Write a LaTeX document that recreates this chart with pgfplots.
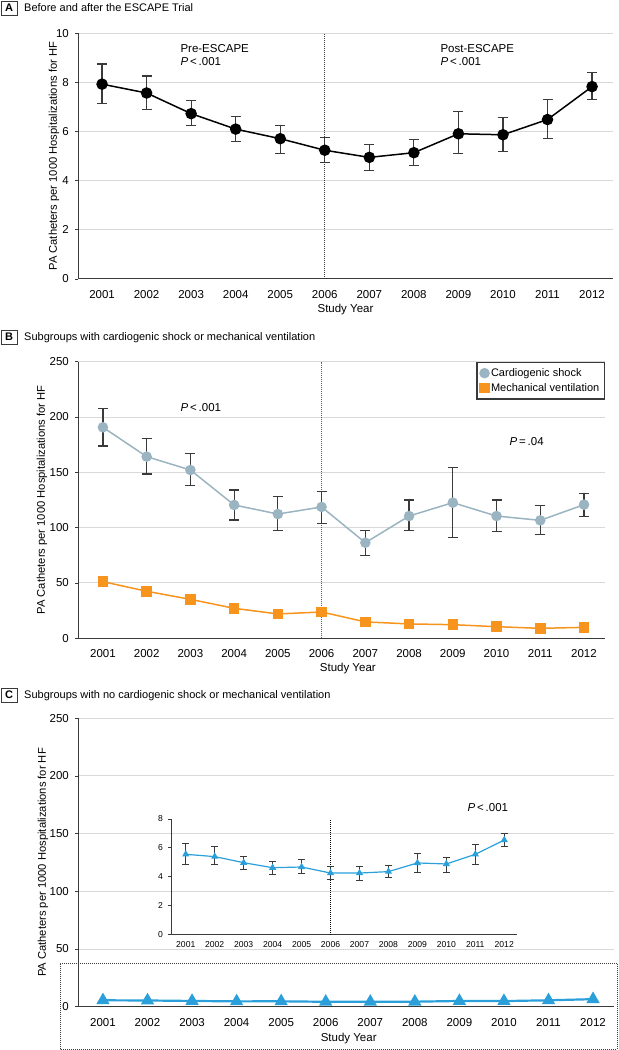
\documentclass[border=0pt]{standalone}
\usepackage{pgfplots}
\pgfplotsset{compat=1.18}
\usepackage{pgfplotstable}
\usepackage{fontspec}
\setmainfont{Liberation Sans}
\definecolor{axisgray}{HTML}{3A3A3A}
\definecolor{gridgray}{HTML}{D9D9D9}
\definecolor{errgray}{HTML}{3A3A3A}
\definecolor{cardio}{HTML}{9AB4C1}
\definecolor{mechor}{HTML}{F7941D}
\definecolor{noblue}{HTML}{2A9FDA}

\pgfplotstableread{
x y ep em
2001 7.93 0.82 0.78
2002 7.57 0.69 0.68
2003 6.73 0.53 0.49
2004 6.10 0.50 0.50
2005 5.71 0.53 0.59
2006 5.24 0.53 0.50
2007 4.95 0.51 0.53
2008 5.14 0.53 0.52
2009 5.91 0.90 0.81
2010 5.87 0.71 0.68
2011 6.49 0.83 0.76
2012 7.83 0.58 0.51
}\dataA

\pgfplotstableread{
x y ep em
2001 190.7 16.8 16.9
2002 164.2 16.5 15.7
2003 152.1 15.1 14.2
2004 120.5 13.5 13.6
2005 112.3 15.7 15.0
2006 118.7 13.8 14.8
2007 86.4 10.9 11.7
2008 110.5 14.5 13.2
2009 122.6 31.9 31.3
2010 110.5 14.5 14.1
2011 106.6 13.3 12.9
2012 120.8 10.2 10.9
}\dataBcs

\pgfplotstableread{
x y
2001 51.2
2002 42.5
2003 35.2
2004 27.1
2005 22.0
2006 23.8
2007 14.8
2008 13.0
2009 12.3
2010 10.5
2011 9.0
2012 9.9
}\dataBmv

\pgfplotstableread{
x y ep em
2001 5.55 0.74 0.74
2002 5.39 0.67 0.56
2003 4.97 0.42 0.46
2004 4.62 0.44 0.44
2005 4.67 0.51 0.42
2006 4.25 0.42 0.48
2007 4.25 0.42 0.50
2008 4.35 0.44 0.42
2009 4.95 0.67 0.67
2010 4.88 0.48 0.56
2011 5.55 0.65 0.72
2012 6.54 0.44 0.46
}\dataC

\newcommand{\tickfont}{\fontsize{11.5bp}{13bp}\selectfont}
\newcommand{\labfont}{\fontsize{11.2bp}{13bp}\selectfont}
\newcommand{\annfont}{\fontsize{11.5bp}{13bp}\selectfont}

\pgfplotsset{
  panel/.style={
    scale only axis,
    axis x line*=bottom, axis y line*=left,
    axis line style={-, line width=1bp, color=axisgray},
    ymajorgrids, grid style={line width=1bp, color=gridgray},
    tick align=outside, major tick length=3bp,
    xtick style={draw=none},
    ytick style={line width=0.8bp, color=axisgray},
    xtick={2001,2002,...,2012},
    /pgf/number format/assume math mode=true,
    xticklabel style={font=\tickfont, anchor=base, inner sep=0pt, yshift=-16.5bp, /pgf/number format/1000 sep={}},
    yticklabel style={font=\tickfont, anchor=east, inner sep=0pt, xshift=-6bp},
    xlabel={Study Year},
    ylabel={PA Catheters per 1000 Hospitalizations for HF},
    ylabel style={font=\labfont, anchor=center},
    xlabel style={font=\tickfont, anchor=center},
  },
  err/.style={error bars/.cd, y dir=both, y explicit,
    error bar style={line width=1.2bp, color=errgray},
    error mark options={rotate=90, mark size=5bp, line width=1.2bp, color=errgray}},
  legend image code/.code={\draw[mark repeat=2,mark phase=2,#1] plot coordinates {(0bp,0bp) (5bp,0bp) (10bp,0bp)};},
}

\begin{document}
\begin{tikzpicture}
\useasboundingbox (0,0) rectangle (619bp,1050bp);

% ---------- Panel A ----------
\draw[line width=0.9bp, color=axisgray] (1bp,1049bp) rectangle (17bp,1035bp);
\node[font=\bfseries\fontsize{11bp}{13bp}\selectfont] at (9bp,1042bp) {A};
\node[anchor=base west, inner sep=0pt, font=\fontsize{11bp}{13bp}\selectfont] at (24bp,1038bp) {Before and after the ESCAPE Trial};

\begin{axis}[panel,
  at={(78bp,771bp)}, anchor=south west, width=535bp, height=245.7bp,
  xmin=2000.46, xmax=2012.47, ymin=0, ymax=10, ytick={0,2,...,10},
  xlabel style={at={(axis description cs:0.5,-0.125)}},
  ylabel style={at={(axis description cs:-0.045,0.5)}},
]
\draw[line width=1bp, color=axisgray, dash pattern=on 1bp off 1bp] (axis cs:2006,0) -- (axis cs:2006,10);
\addplot[black, line width=1.5bp, mark=*, mark size=5bp, mark options={fill=black}, err]
  table[x=x, y=y, y error plus=ep, y error minus=em] {\dataA};
\end{axis}
\node[anchor=west, font=\annfont] at (177bp,1001bp) {Pre-ESCAPE};
\node[anchor=west, font=\annfont] at (177bp,988bp) {\textit{P}\,<\,.001};
\node[anchor=west, font=\annfont] at (437bp,1001bp) {Post-ESCAPE};
\node[anchor=west, font=\annfont] at (437bp,988bp) {\textit{P}\,<\,.001};

% ---------- Panel B ----------
\draw[line width=0.9bp, color=axisgray] (1bp,720bp) rectangle (17bp,706bp);
\node[font=\bfseries\fontsize{11bp}{13bp}\selectfont] at (9bp,713bp) {B};
\node[anchor=base west, inner sep=0pt, font=\fontsize{11bp}{13bp}\selectfont] at (24bp,709bp) {Subgroups with cardiogenic shock or mechanical ventilation};

\begin{axis}[panel,
  at={(78bp,411.7bp)}, anchor=south west, width=527bp, height=276.6bp,
  xmin=2000.43, xmax=2012.48, ymin=0, ymax=250, ytick={0,50,...,250},
  xlabel style={at={(axis description cs:0.512,-0.108)}},
  ylabel style={at={(axis description cs:-0.0683,0.5)}},
  legend style={at={(1,1)}, anchor=north east, draw=axisgray, line width=1.5bp,
    font=\fontsize{11bp}{12bp}\selectfont, inner xsep=3bp, inner ysep=4bp,
    row sep=1.5bp, cells={anchor=west}},
  legend cell align=left,
]
\draw[line width=1.2bp, color=axisgray!80, dash pattern=on 1bp off 1bp] (axis cs:2006,0) -- (axis cs:2006,250);
\addplot[cardio, line width=1.5bp, mark=*, mark size=4.5bp, mark options={fill=cardio, draw=cardio}, forget plot, err]
  table[x=x, y=y, y error plus=ep, y error minus=em] {\dataBcs};
\addplot[mechor, line width=1.5bp, mark=square*, mark size=4.5bp, mark options={fill=mechor, draw=mechor}, forget plot]
  table[x=x, y=y] {\dataBmv};
\addlegendimage{only marks, mark=*, mark size=4.5bp, color=cardio, fill=cardio}
\addlegendentry{Cardiogenic shock}
\addlegendimage{only marks, mark=square*, mark size=4.5bp, color=mechor, fill=mechor}
\addlegendentry{Mechanical ventilation}
\end{axis}
\node[anchor=west, font=\annfont] at (177bp,642bp) {\textit{P}\,<\,.001};
\node[anchor=west, font=\annfont] at (506bp,608bp) {\textit{P}\,=\,.04};

% ---------- Panel C ----------
\draw[line width=0.9bp, color=axisgray] (1bp,362bp) rectangle (17bp,348bp);
\node[font=\bfseries\fontsize{11bp}{13bp}\selectfont] at (9bp,355bp) {C};
\node[anchor=base west, inner sep=0pt, font=\fontsize{11bp}{13bp}\selectfont] at (24bp,351bp) {Subgroups with no cardiogenic shock or mechanical ventilation};

\begin{axis}[panel,
  at={(78bp,43.3bp)}, anchor=south west, width=536bp, height=288.4bp,
  xmin=2000.44, xmax=2012.47, ymin=0, ymax=250, ytick={0,50,...,250},
  xlabel style={at={(axis description cs:0.505,-0.11)}},
  ylabel style={at={(axis description cs:-0.0653,0.5)}},
]
\addplot[noblue, line width=2.2bp, mark=triangle*, mark size=5.5bp, mark options={fill=noblue, draw=noblue}]
  table[x=x, y=y] {\dataC};
\end{axis}

\begin{axis}[
  scale only axis,
  at={(171bp,115.7bp)}, anchor=south west, width=346bp, height=115.3bp,
  xmin=2000.49, xmax=2012.44, ymin=0, ymax=8, ytick={0,2,...,8},
  axis x line*=bottom, axis y line*=left,
  axis line style={-, line width=1bp, color=axisgray},
  tick align=outside, major tick length=3bp,
  xtick style={draw=none},
  ytick style={line width=0.8bp, color=axisgray},
  xtick={2001,2002,...,2012},
  /pgf/number format/assume math mode=true,
  xticklabel style={font=\fontsize{8.6bp}{10bp}\selectfont, anchor=base, inner sep=0pt, yshift=-10.5bp, /pgf/number format/1000 sep={}},
  yticklabel style={font=\fontsize{8.6bp}{10bp}\selectfont, anchor=east, inner sep=0pt, xshift=-5bp},
]
\draw[line width=0.9bp, color=black, dash pattern=on 1bp off 1bp] (axis cs:2006,-0.3) -- (axis cs:2006,8);
\addplot[noblue, line width=1.2bp, mark=triangle*, mark size=3bp, mark options={fill=noblue, draw=noblue},
  error bars/.cd, y dir=both, y explicit,
  error bar style={line width=1bp, color=errgray},
  error mark options={rotate=90, mark size=3.5bp, line width=1bp, color=errgray}]
  table[x=x, y=y, y error plus=ep, y error minus=em] {\dataC};
\end{axis}
\node[anchor=west, font=\annfont] at (464bp,242bp) {\textit{P}\,<\,.001};

\draw[line width=0.8bp, color=axisgray, dash pattern=on 1bp off 1bp] (60bp,1bp) rectangle (617bp,87bp);
\end{tikzpicture}
\end{document}
